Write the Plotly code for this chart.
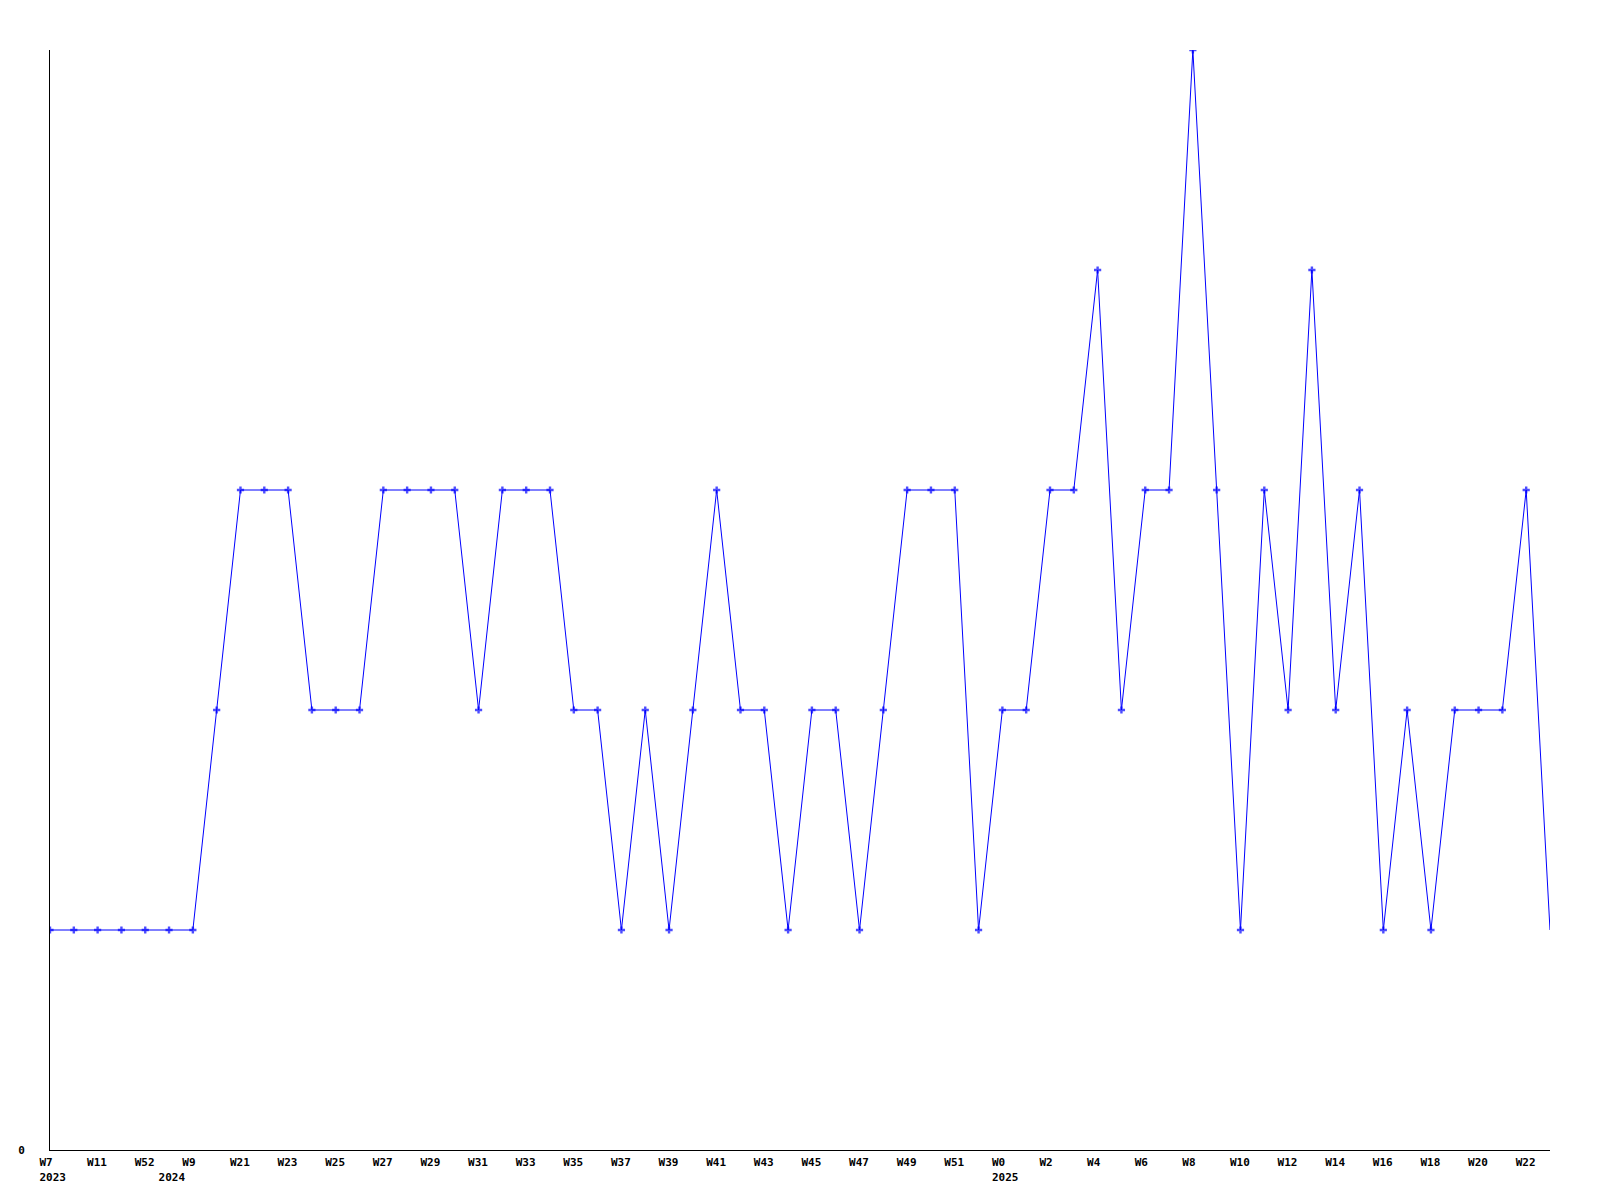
import plotly.graph_objects as go

weeks = ["W7", "W10", "W11", "W30", "W52", "W3", "W9", "W15",
         "W21", "W22", "W23", "W24", "W25", "W26", "W27", "W28", "W29", "W30",
         "W31", "W32", "W33", "W34", "W35", "W36", "W37", "W38", "W39", "W40",
         "W41", "W42", "W43", "W44", "W45", "W46", "W47", "W48", "W49", "W50",
         "W51", "W52", "W0", "W1", "W2", "W3", "W4", "W5", "W6", "W7", "W8",
         "W9", "W10", "W11", "W12", "W13", "W14", "W15", "W16", "W17", "W18",
         "W19", "W20", "W21", "W22", "W23"]
years = [2023] * 5 + [2024] * 35 + [2025] * 24
values = [1, 1, 1, 1, 1, 1, 1, 2, 3, 3, 3, 2, 2, 2, 3, 3, 3, 3, 2, 3, 3, 3,
          2, 2, 1, 2, 1, 2, 3, 2, 2, 1, 2, 2, 1, 2, 3, 3, 3, 1, 2, 2, 3, 3,
          4, 2, 3, 3, 5, 3, 1, 3, 2, 4, 2, 3, 1, 2, 1, 2, 2, 2, 3, 1]

idx = list(range(len(values)))

tickvals, ticktext = [], []
prev_year = None
for i in idx:
    week_lbl = weeks[i] if i % 2 == 0 else ""
    year_lbl = str(years[i]) if years[i] != prev_year else ""
    prev_year = years[i]
    if week_lbl or year_lbl:
        label = (week_lbl or " ")
        if year_lbl:
            label += "<br>" + year_lbl
        tickvals.append(i)
        ticktext.append(label)

marker_sizes = [6] * (len(values) - 1) + [0]

fig = go.Figure(go.Scatter(
    x=idx, y=values, mode="lines+markers",
    line=dict(color="#0000ff", width=1),
    marker=dict(symbol="cross", size=marker_sizes, color="#0000ff",
                line=dict(width=0)),
    hoverinfo="x+y",
))

tf = dict(family="DejaVu Sans Mono", size=11, color="black", weight="bold")

fig.update_layout(
    width=1600, height=1200,
    margin=dict(l=42, r=58, t=42, b=58),
    paper_bgcolor="white", plot_bgcolor="white",
    showlegend=False,
    font=dict(family="DejaVu Sans Mono", size=11, color="black"),
)
fig.update_xaxes(
    range=[0, len(values) - 1],
    tickvals=tickvals, ticktext=ticktext,
    tickangle=0,
    ticklabelposition="outside right", ticklabelshift=-11,
    ticklabelstandoff=2,
    showline=True, linecolor="black", linewidth=1,
    showgrid=False, zeroline=False, ticks="",
    automargin=False,
    tickfont=tf,
)
fig.update_yaxes(
    range=[0, 5],
    tickvals=[0], ticktext=["0"],
    showline=True, linecolor="black", linewidth=1,
    showgrid=False, zeroline=False, ticks="",
    ticklabelstandoff=22,
    automargin=False,
    tickfont=tf,
)

fig.write_html("out.html")
